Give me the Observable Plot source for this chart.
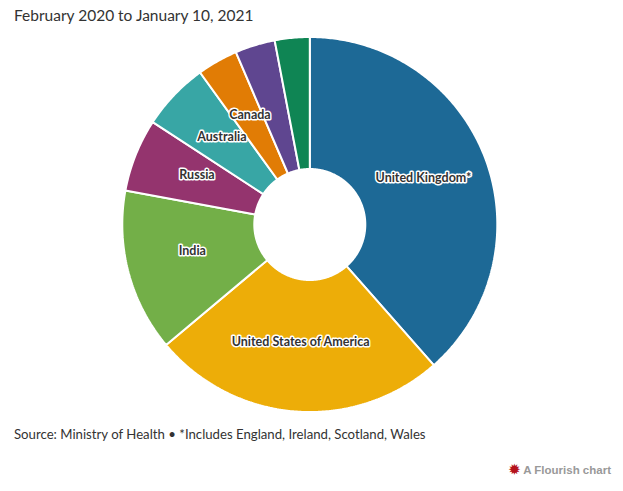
<!DOCTYPE html>
<html><head><meta charset="utf-8">
<script src="https://cdn.jsdelivr.net/npm/d3@7"></script>
<script src="https://cdn.jsdelivr.net/npm/@observablehq/plot@0.6"></script>
<style>
html,body{margin:0;padding:0;background:#fff;overflow:hidden}
body{position:relative;width:623px;height:491px;font-family:"Lato",sans-serif;color:#333}
#title{position:absolute;left:14px;top:5px;font-size:15.5px;line-height:20px;white-space:nowrap}
#chart{position:absolute;left:0;top:30px}
#source{position:absolute;left:14px;top:425px;font-size:13.2px;line-height:18px;white-space:nowrap}
#credit{position:absolute;right:12px;top:461px;font:bold 11.5px "Liberation Sans",sans-serif;color:#999;line-height:18px;white-space:nowrap}
#credit span{color:#b5121b;font-size:13px}
svg text{paint-order:stroke}
</style></head><body>
<div id="title">February 2020 to January 10, 2021</div>
<div id="chart"></div>
<div id="source">Source: Ministry of Health • *Includes England, Ireland, Scotland, Wales</div>
<div id="credit"><span>✹</span> A Flourish chart</div>
<script>
const names = ["United Kingdom*","United States of America","India","Russia","Australia","Canada","Other A","Other B"];
const shares = [38.5,25.4,14.0,6.3,5.85,3.5,3.45,3.0];
const colors = ["#1d6996","#edad08","#73af48","#94346e","#38a6a5","#e17c05","#5f4690","#0f8554"];
const labelled = ["United Kingdom*","United States of America","India","Russia","Australia","Canada"];

const R = 187.5, r0 = 55.5, cx = 309.3, cy = 194, W = 623, H = 390;
const pie = d3.pie().sort(null).value(d => d.share).startAngle(0).endAngle(2*Math.PI);
const arcs = pie(names.map((name,i)=>({name,share:shares[i]})));
const pts = [];
const labels = [];
for (const a of arcs) {
  const n = Math.max(2, Math.ceil((a.endAngle-a.startAngle)/0.01));
  const ring = [];
  for (let i=0;i<=n;i++){const t=a.startAngle+(a.endAngle-a.startAngle)*i/n; ring.push([Math.sin(t)*R,Math.cos(t)*R]);}
  for (let i=n;i>=0;i--){const t=a.startAngle+(a.endAngle-a.startAngle)*i/n; ring.push([Math.sin(t)*r0,Math.cos(t)*r0]);}
  ring.push(ring[0]);
  ring.forEach(p=>pts.push({name:a.data.name,x:p[0],y:p[1]}));
  const m=(a.startAngle+a.endAngle)/2, rm=(R+r0)/2;
  if(labelled.includes(a.data.name)) labels.push({name:a.data.name,x:Math.sin(m)*rm,y:Math.cos(m)*rm});
}
const plot = Plot.plot({
  width:W,height:H,margin:0,
  x:{domain:[-cx,W-cx],range:[0,W],axis:null},
  y:{domain:[-(H-cy),cy],range:[H,0],axis:null},
  color:{domain:names,range:colors},
  style:{background:"transparent",overflow:"visible"},
  marks:[
    Plot.line(pts,{x:"x",y:"y",z:"name",fill:"name",stroke:"#fff",strokeWidth:2,strokeLinejoin:"miter"}),
    Plot.text(labels,{x:"x",y:"y",text:"name",dy:-4,fill:"#333",stroke:"#fff",strokeWidth:3,fontSize:12.5,fontWeight:"bold",fontFamily:"Lato"})
  ]
});
document.getElementById("chart").append(plot);
</script>
</body></html>
